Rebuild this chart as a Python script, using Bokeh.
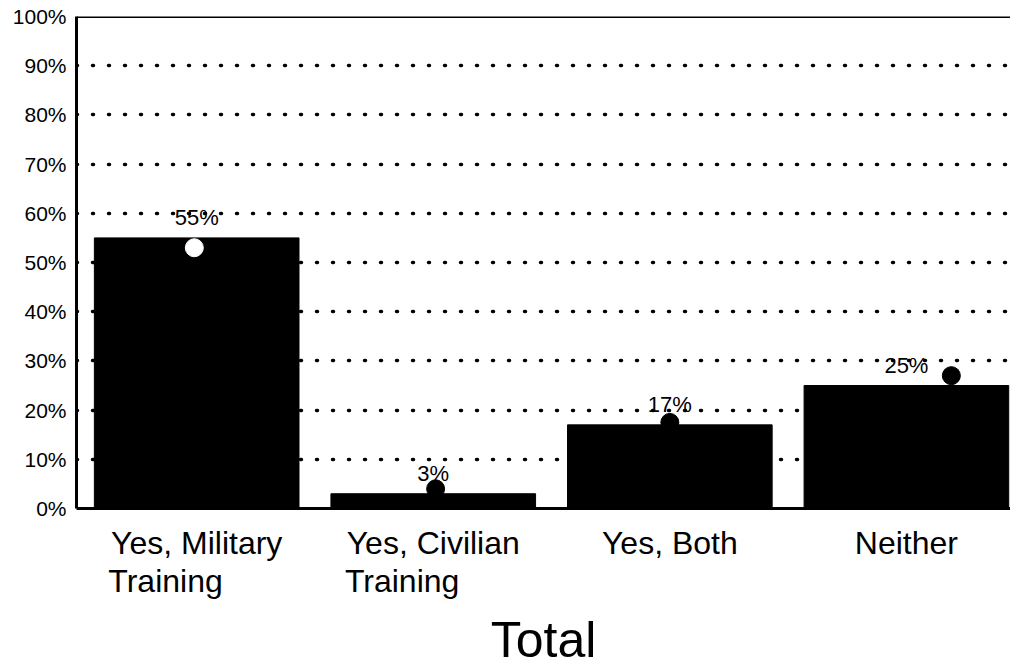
from bokeh.plotting import figure
from bokeh.models import Range1d, FixedTicker, Span, ColumnDataSource, PrintfTickFormatter
from bokeh.core.properties import value
from bokeh.embed import file_html
from bokeh.resources import INLINE

# ---- data ----
NB = "\u00a0" * 7   # pads the second line so both lines start at the same left edge
categories = ["Yes, Military\nTraining" + NB, "Yes, Civilian\nTraining" + NB, "Yes, Both", "Neither"]
values = [55, 3, 17, 25]
value_labels = ["55%", "3%", "17%", "25%"]
dot_values = [53, 4, 17.5, 27]
dot_shift = [-0.01, 0.01, 0.0, 0.19]
y_ticks = [0, 10, 20, 30, 40, 50, 60, 70, 80, 90, 100]
grid_ticks = [10, 20, 30, 40, 50, 60, 70, 80, 90]
x_title = "Total"

FONT = "Liberation Sans"
idx = list(range(len(values)))

p = figure(width=1010, height=670, output_backend="svg", toolbar_location=None,
           x_range=Range1d(-0.508, 3.44), y_range=Range1d(0, 100),
           min_border_left=76, min_border_right=0, min_border_top=16, min_border_bottom=10)
p.outline_line_color = None
p.background_fill_color = "white"
p.border_fill_color = "white"

# grid
p.xgrid.visible = False
p.ygrid.ticker = FixedTicker(ticks=grid_ticks)
p.ygrid.grid_line_color = "black"
p.ygrid.grid_line_dash = "1 15"
p.ygrid.grid_line_width = 3.5
p.ygrid.grid_line_cap = "round"

# bars
src = ColumnDataSource(dict(x=idx, top=values, lab=value_labels))
p.vbar(x="x", top="top", bottom=0, width=0.865, source=src,
       fill_color="black", line_color="black")

# value labels
p.text(x="x", y="top", text="lab", source=src, text_align="center",
       text_baseline="alphabetic", y_offset=-20, text_font=value(FONT),
       text_font_size="22px", text_color="black")

# dots
dsrc = ColumnDataSource(dict(x=[i + s for i, s in zip(idx, dot_shift)], y=dot_values,
                             c=["white", "black", "black", "black"]))
p.scatter(x="x", y="y", source=dsrc, size=18, fill_color="c", line_color="c")

# top border
p.add_layout(Span(location=100, dimension="width", line_color="black", line_width=3))

# y axis
ya = p.yaxis[0]
ya.ticker = FixedTicker(ticks=y_ticks)
ya.formatter = PrintfTickFormatter(format="%d%%")
ya.axis_line_width = 3
ya.axis_line_color = "black"
ya.major_tick_line_color = None
ya.minor_tick_line_color = None
ya.major_label_text_font = FONT
ya.major_label_text_font_size = "21px"
ya.major_label_text_color = "black"
ya.major_label_standoff = 4

# x axis
xa = p.xaxis[0]
xa.ticker = FixedTicker(ticks=idx)
xa.major_label_overrides = {i: c for i, c in zip(idx, categories)}
xa.axis_line_width = 3
xa.axis_line_color = "black"
xa.major_tick_line_color = None
xa.minor_tick_line_color = None
xa.major_label_text_font = FONT
xa.major_label_text_font_size = "32px"
xa.major_label_text_line_height = 1.06
xa.major_label_text_color = "black"
xa.major_label_standoff = 10
xa.axis_label = x_title
xa.axis_label_text_font = FONT
xa.axis_label_text_font_size = "50px"
xa.axis_label_text_line_height = 1.0
xa.axis_label_text_font_style = "normal"
xa.axis_label_text_color = "black"
xa.axis_label_standoff = 10

open("out.html", "w").write(file_html(p, INLINE))
